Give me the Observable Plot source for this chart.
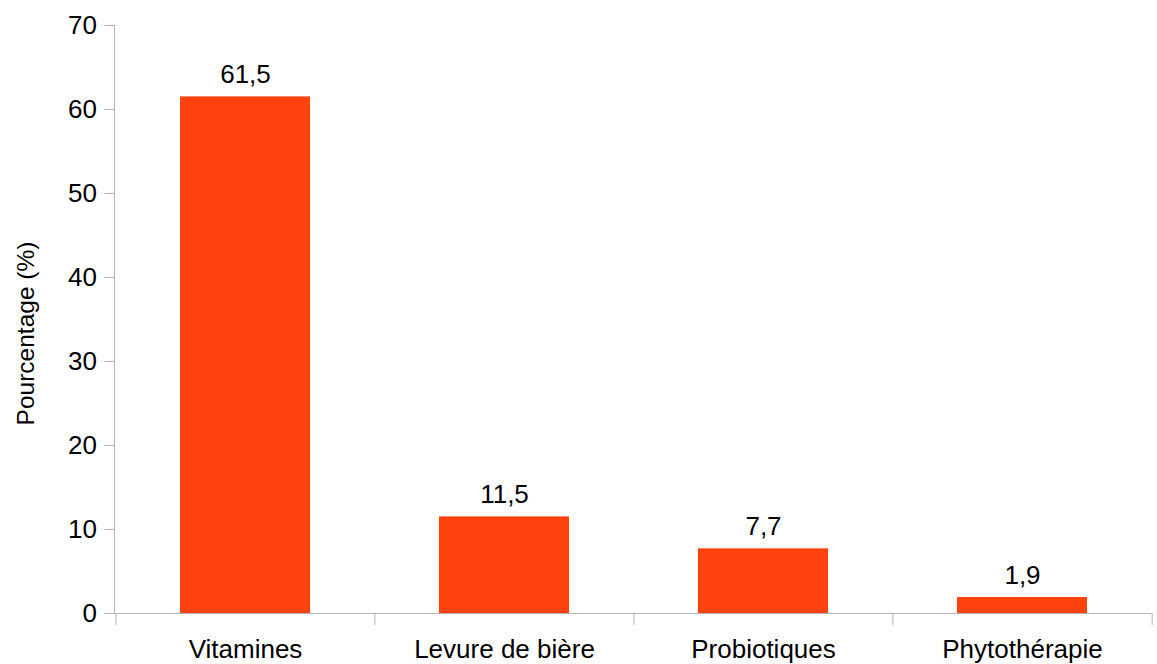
<!DOCTYPE html>
<html>
<head>
<meta charset="utf-8">
<script src="https://cdn.jsdelivr.net/npm/d3@7"></script>
<script src="https://cdn.jsdelivr.net/npm/@observablehq/plot@0.6"></script>
<style>
  html, body { margin: 0; padding: 0; background: #fff; }
  #chart svg { display: block; }
</style>
</head>
<body>
<div id="chart"></div>
<script>
const categories = ["Vitamines", "Levure de bière", "Probiotiques", "Phytothérapie"];
const values = [61.5, 11.5, 7.7, 1.9];
const yTicks = [0, 10, 20, 30, 40, 50, 60, 70];
const yLabel = "Pourcentage (%)";

const data = categories.map((c, i) => ({category: c, value: values[i]}));

const W = 1157, H = 664;
const mLeft = 114.5, mRight = 5.5, mTop = 25, mBottom = 51;
const bw = (W - mLeft - mRight) / categories.length;
const gray = "#b3b3b3";
const barColor = "#ff420e";
const fmt = v => String(v).replace(".", ",");

const yAxisLine = (index, scales, values, dims) => {
  const svg = d3.create("svg:g");
  svg.append("line")
    .attr("x1", dims.marginLeft).attr("x2", dims.marginLeft)
    .attr("y1", scales.y(yTicks[0])).attr("y2", scales.y(yTicks[yTicks.length - 1]))
    .attr("stroke", gray).attr("stroke-width", 1);
  return svg.node();
};

const chart = Plot.plot({
  width: W,
  height: H,
  marginLeft: mLeft,
  marginRight: mRight,
  marginTop: mTop,
  marginBottom: mBottom,
  style: {fontFamily: "'Liberation Sans', Arial, sans-serif", color: "#000", background: "#fff"},
  x: {domain: categories, paddingInner: 0.5, paddingOuter: 0.25, align: 0.5},
  y: {domain: [0, 70]},
  marks: [
    Plot.barY(data, {x: "category", y: "value", fill: barColor}),
    Plot.ruleY([0], {stroke: gray}),
    yAxisLine,
    Plot.axisY({ticks: yTicks, tickSize: 10, tickPadding: 8, fontSize: 26, stroke: gray, label: null, tickFormat: d => d}),
    Plot.axisX({tickSize: 12, tickFormat: () => "", dx: -bw / 2, stroke: gray, label: null}),
    Plot.axisX({ticks: [categories[categories.length - 1]], tickSize: 12, tickFormat: () => "", dx: bw / 2, stroke: gray, label: null}),
    Plot.axisX({tickSize: 0, tickPadding: 26, fontSize: 26, label: null}),
    Plot.text(data, {x: "category", y: "value", text: d => fmt(d.value), dy: -22, fontSize: 26, fill: "#000"}),
    Plot.text([yLabel], {frameAnchor: "left", textAnchor: "middle", rotate: -90, dx: -89, dy: 14, fontSize: 24.5, fill: "#000"})
  ]
});

document.getElementById("chart").appendChild(chart);
</script>
</body>
</html>
